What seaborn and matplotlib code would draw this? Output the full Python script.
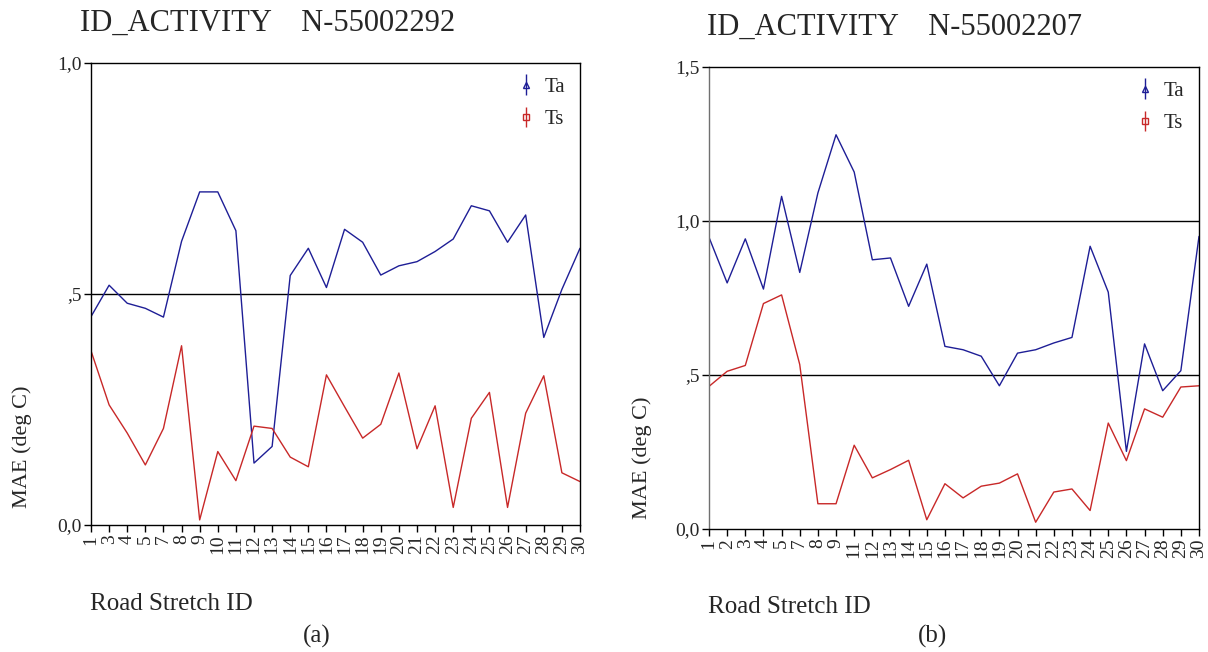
import numpy as np
import pandas as pd
import matplotlib
matplotlib.use("Agg")
import matplotlib.pyplot as plt
import seaborn as sns

# ---------------- data ----------------
roads_a = ["1", "3", "4", "5", "7", "8", "9", "10", "11", "12", "13", "14", "15", "16",
           "17", "18", "19", "20", "21", "22", "23", "24", "25", "26", "27", "28", "29", "30"]
ta_a = [0.451, 0.519, 0.480, 0.469, 0.450, 0.614, 0.721, 0.721, 0.637, 0.134, 0.170, 0.540,
        0.599, 0.514, 0.640, 0.612, 0.541, 0.561, 0.570, 0.592, 0.619, 0.691, 0.680, 0.612,
        0.671, 0.406, 0.510, 0.599]
ts_a = [0.377, 0.260, 0.199, 0.130, 0.209, 0.388, 0.011, 0.159, 0.096, 0.214, 0.209, 0.147,
        0.126, 0.325, 0.256, 0.188, 0.218, 0.329, 0.165, 0.258, 0.038, 0.231, 0.287, 0.038,
        0.242, 0.323, 0.113, 0.094]

roads_b = ["1", "2", "3", "4", "5", "7", "8", "9", "11", "12", "13", "14", "15", "16",
           "17", "18", "19", "20", "21", "22", "23", "24", "25", "26", "27", "28", "29", "30"]
ta_b = [0.947, 0.799, 0.942, 0.779, 1.080, 0.833, 1.091, 1.280, 1.159, 0.874, 0.880, 0.723,
        0.860, 0.593, 0.582, 0.561, 0.465, 0.571, 0.582, 0.604, 0.622, 0.918, 0.769, 0.252,
        0.601, 0.449, 0.514, 0.950]
ts_b = [0.463, 0.512, 0.531, 0.732, 0.760, 0.534, 0.082, 0.082, 0.272, 0.166, 0.193, 0.223,
        0.030, 0.147, 0.101, 0.139, 0.149, 0.179, 0.022, 0.120, 0.130, 0.060, 0.344, 0.222,
        0.390, 0.363, 0.461, 0.465]

series_names = ["Ta", "Ts"]
titles = ["ID_ACTIVITY    N-55002292", "ID_ACTIVITY    N-55002207"]
panel_tags = ["(a)", "(b)"]
yticks_a = [0.0, 0.5, 1.0]
yticklabels_a = ["0,0", ",5", "1,0"]
yticks_b = [0.0, 0.5, 1.0, 1.5]
yticklabels_b = ["0,0", ",5", "1,0", "1,5"]
reflines_a = [0.5]
reflines_b = [0.5, 1.0]

BLUE = "#1e1e96"
RED = "#c82828"
palette = {"Ta": BLUE, "Ts": RED}

sns.set_style("white")
plt.rcParams["font.family"] = ["Liberation Serif", "DejaVu Serif"]
plt.rcParams["axes.linewidth"] = 1.0

W, H = 1208, 652
fig = plt.figure(figsize=(W / 100, H / 100), dpi=100)


def box(x0, y0, x1, y1):
    return [x0 / W, 1 - y1 / H, (x1 - x0) / W, (y1 - y0) / H]


def make_df(roads, ta, ts):
    return pd.DataFrame({
        "road": roads * 2,
        "mae": list(ta) + list(ts),
        "series": ["Ta"] * len(roads) + ["Ts"] * len(roads),
    })


panels = [
    dict(rect=box(91, 63, 580, 525), df=make_df(roads_a, ta_a, ts_a), roads=roads_a,
         ylim=(0, 1.0), yt=yticks_a, ytl=yticklabels_a, refs=reflines_a,
         title_xy=(80, 23), ylab_xy=(22, 447), xlab_xy=(90, 604), tag_xy=(317, 636)),
    dict(rect=box(709, 67, 1199, 529), df=make_df(roads_b, ta_b, ts_b), roads=roads_b,
         ylim=(0, 1.5), yt=yticks_b, ytl=yticklabels_b, refs=reflines_b,
         title_xy=(707, 27), ylab_xy=(642, 458), xlab_xy=(708, 607), tag_xy=(932, 636)),
]

for i, p in enumerate(panels):
    ax = fig.add_axes(p["rect"])
    sns.lineplot(data=p["df"], x="road", y="mae", hue="series", palette=palette,
                 hue_order=series_names, linewidth=1.0, ax=ax, legend=False, sort=False)
    for r in p["refs"]:
        ax.axhline(r, color="black", linewidth=1.0, zorder=1)
    ax.set_xlim(0, len(p["roads"]) - 1)
    ax.set_ylim(*p["ylim"])
    ax.set_xticks(range(len(p["roads"])))
    ax.set_xticklabels(p["roads"], rotation=90, fontsize=14)
    ax.set_yticks(p["yt"])
    ax.set_yticklabels(p["ytl"], fontsize=14)
    ax.tick_params(axis="both", direction="out", length=5, width=1, color="black",
                   bottom=True, left=True, pad=2)
    ax.set_xlabel("")
    ax.set_ylabel("")
    for s in ax.spines.values():
        s.set_color("black")
        s.set_visible(True)
    if i == 1:
        ax.spines["left"].set_color("#707070")

    # legend with error-bar style handles
    h_ta = ax.errorbar([], [], yerr=[], fmt="^", mfc="none", color=BLUE, capsize=4,
                       markersize=4.5, elinewidth=1, capthick=1)
    h_ts = ax.errorbar([], [], yerr=[], fmt="s", mfc="none", color=RED, capsize=4,
                       markersize=4.5, elinewidth=1, capthick=1)
    ax.legend([h_ta, h_ts], series_names, loc="upper right", frameon=False,
              fontsize=15, handlelength=0.8, handletextpad=0.5, labelspacing=0.6,
              borderaxespad=0.3)

    fig.text(p["title_xy"][0] / W, 1 - p["title_xy"][1] / H, titles[i],
             fontsize=22, ha="left", va="center")
    fig.text(p["ylab_xy"][0] / W, 1 - p["ylab_xy"][1] / H, "MAE (deg C)",
             fontsize=16, rotation=90, ha="center", va="center")
    fig.text(p["xlab_xy"][0] / W, 1 - p["xlab_xy"][1] / H, "Road Stretch ID",
             fontsize=18, ha="left", va="center")
    fig.text(p["tag_xy"][0] / W, 1 - p["tag_xy"][1] / H, panel_tags[i],
             fontsize=18, ha="center", va="center")

fig.savefig("out.png", dpi=100, facecolor="white")
